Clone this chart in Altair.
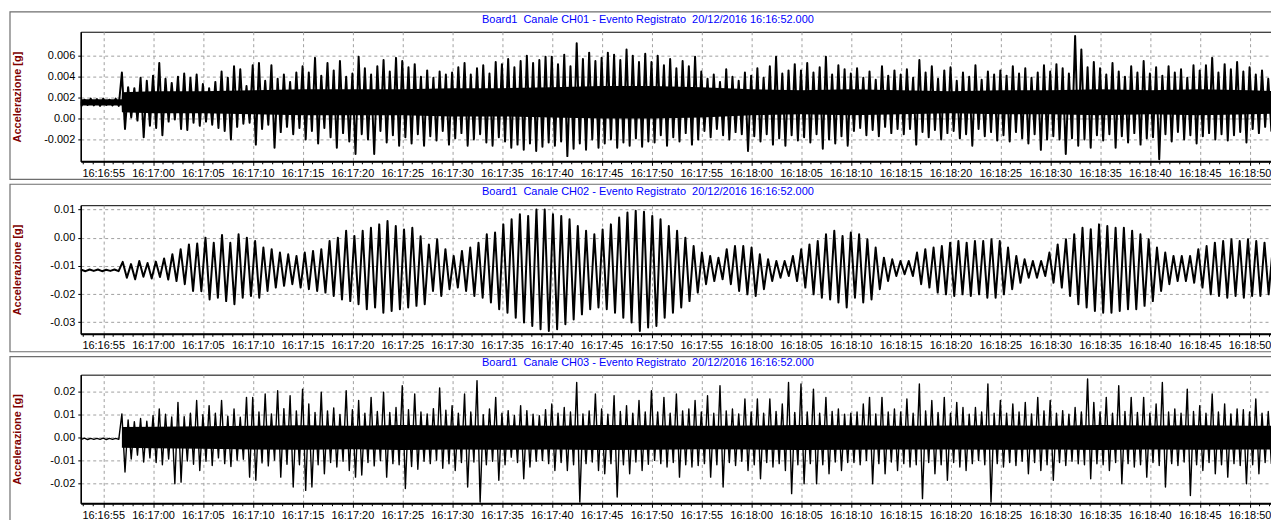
import altair as alt
import pandas as pd

# ---------------- text / axes ----------------
board = "Board1"
event_stamp = "20/12/2016 16:16:52.000"
channels = ["CH01", "CH02", "CH03"]
y_title = "Accelerazione [g]"
x_tick_labels = ["16:16:55", "16:17:00", "16:17:05", "16:17:10", "16:17:15", "16:17:20",
                 "16:17:25", "16:17:30", "16:17:35", "16:17:40", "16:17:45", "16:17:50",
                 "16:17:55", "16:18:00", "16:18:05", "16:18:10", "16:18:15", "16:18:20",
                 "16:18:25", "16:18:30", "16:18:35", "16:18:40", "16:18:45", "16:18:50"]
x_minor_step_s = 1
view_start, view_end = "16:16:52.75", "16:18:52.95"
y_ticks = [[-0.002, 0, 0.002, 0.004, 0.006],
           [-0.03, -0.02, -0.01, 0, 0.01],
           [-0.02, -0.01, 0, 0.01, 0.02]]
y_domains = [[-0.0041, 0.0083], [-0.0341, 0.0115], [-0.0288, 0.0273]]

# ---------------- data (milli-g) ----------------
# CH01 / CH03: one high and one low excursion per 0.625 s window, from 16:16:52.5
win_start, win_step = "16:16:52.5", 0.625
ch01_hi_mg = [1.9, 1.8, 1.9, 1.85, 1.9, 1.8, 1.9,
              4.4, 3.0, 2.9, 3.9, 3.6,
              4.1, 5.3, 3.8, 3.4, 4.0, 4.3, 3.9, 4.2,
              3.3, 2.9, 3.5, 4.5, 3.9, 5.0, 4.7, 3.1,
              5.1, 5.3, 3.6, 5.1, 3.8, 4.2, 3.5, 4.4,
              5.0, 4.4, 5.8, 4.1, 5.3, 4.6, 5.5, 4.0,
              4.3, 5.9, 4.8, 4.2, 5.0, 5.6, 4.5, 5.8,
              5.5, 4.9, 5.2, 4.0, 4.6, 3.9, 4.5, 4.2,
              4.4, 4.9, 5.3, 4.2, 4.8, 5.1, 4.3, 5.4,
              5.2, 5.7, 4.9, 5.5, 6.0, 5.3, 5.6, 5.9,
              5.9, 5.2, 6.1, 5.0, 7.2, 5.7, 6.3, 5.5,
              5.8, 6.3, 6.1, 5.6, 6.6, 6.0, 5.4, 6.2,
              5.4, 6.0, 5.1, 5.7, 4.8, 5.5, 5.0, 5.9,
              4.5, 3.8, 4.2, 3.5, 4.7, 4.0, 3.6, 4.4,
              4.1, 4.8, 3.9, 5.0, 5.9, 4.3, 4.6, 5.2,
              4.6, 5.3, 4.4, 4.9, 5.9, 4.2, 5.1, 4.7,
              4.3, 4.8, 3.9, 4.5, 3.7, 5.0, 4.1, 4.6,
              4.2, 4.7, 3.9, 5.6, 4.4, 5.0, 3.8, 4.6,
              4.9, 3.6, 4.4, 4.0, 5.1, 3.7, 4.5, 4.2,
              4.6, 4.1, 5.0, 4.3, 4.8, 3.9, 4.4, 5.1,
              4.5, 5.2, 4.8, 4.3, 7.9, 6.6, 4.9, 5.4,
              4.8, 4.2, 5.3, 4.5, 4.0, 5.0, 4.4, 5.5,
              4.3, 4.9, 4.1, 5.0, 4.4, 4.7, 3.9, 5.1,
              4.6, 5.1, 5.8, 4.4, 5.2, 4.7, 5.4, 4.5,
              4.9, 4.2, 4.6, 3.8, 4.5, 4.1]
ch01_lo_mg = [1.2, 1.3, 1.25, 1.2, 1.3, 1.25, 1.2,
              -1.0, 0.1, -0.2, -1.8, -0.7,
              -0.9, -1.6, -0.3, -0.1, -1.0, -1.1, -0.4, -0.7,
              -0.3, -0.6, -0.9, -1.2, -2.0, -0.8, -0.5, -0.4,
              -2.5, -1.0, -0.6, -2.8, -1.3, -0.8, -1.5, -0.9,
              -2.0, -1.2, -2.4, -0.9, -1.8, -2.8, -1.4, -2.2,
              -3.4, -1.5, -2.0, -3.4, -1.2, -2.3, -1.6, -2.6,
              -1.8, -2.4, -1.5, -2.6, -1.7, -2.1, -1.2, -2.5,
              -1.9, -1.4, -2.6, -2.0, -1.5, -2.3, -2.6, -1.8,
              -2.2, -2.8, -2.5, -3.0, -2.4, -3.1, -2.7, -2.3,
              -2.6, -2.2, -3.6, -2.9, -2.4, -3.0, -2.0, -2.8,
              -2.4, -2.0, -2.8, -2.3, -2.6, -1.9, -2.7, -2.2,
              -2.3, -1.6, -2.6, -1.8, -2.2, -1.4, -2.5, -2.0,
              -1.2, -1.8, -1.0, -1.6, -2.0, -1.3, -1.5, -3.1,
              -1.7, -2.2, -1.5, -2.5, -1.9, -2.6, -1.6, -2.1,
              -1.8, -2.3, -1.5, -2.9, -2.0, -2.4, -1.7, -2.6,
              -1.2, -0.9, -1.6, -1.1, -1.7, -0.8, -1.4, -1.0,
              -1.5, -1.0, -2.5, -1.3, -1.8, -1.1, -2.0, -1.4,
              -1.2, -1.9, -1.5, -2.6, -1.0, -1.7, -1.3, -2.1,
              -1.6, -2.2, -1.3, -1.9, -2.4, -1.5, -3.0, -2.0,
              -1.7, -2.0, -3.4, -1.9, -2.6, -2.0, -2.8, -1.6,
              -2.1, -1.5, -2.8, -1.7, -2.3, -1.4, -2.5, -1.9,
              -1.8, -3.9, -1.5, -2.2, -1.3, -2.0, -1.6, -2.4,
              -1.7, -1.4, -2.0, -1.5, -2.1, -1.6, -1.3, -2.3,
              -1.0, -1.4, -0.8, -1.2, -0.9, -1.3]
ch03_hi_mg = [-0.5, -0.4, -0.5, -0.5, -0.4, -0.5, -0.5,
              10.2, 7.5, 6.8, 8.2, 7.0,
              9.5, 12.3, 10.0, 8.8, 15.2, 9.0, 10.5, 16.0,
              9.8, 13.8, 10.5, 16.0, 9.2, 12.3, 8.7, 17.4,
              17.4, 11.0, 18.9, 10.2, 20.3, 12.5, 18.1, 11.5,
              21.0, 14.5, 10.8, 19.6, 11.5, 12.8, 9.9, 20.3,
              12.0, 16.0, 10.5, 17.4, 11.2, 19.6, 10.8, 13.0,
              22.5, 12.0, 18.9, 11.0, 10.2, 12.5, 21.5, 11.8,
              13.8, 10.5, 18.9, 11.0, 24.7, 9.8, 12.3, 17.4,
              10.5, 11.6, 9.5, 13.8, 11.6, 10.0, 9.4, 12.0,
              14.5, 10.5, 13.0, 11.0, 23.9, 10.2, 11.5, 18.9,
              12.3, 10.0, 18.1, 11.2, 13.8, 10.5, 16.0, 11.0,
              20.3, 11.0, 17.4, 10.5, 18.9, 11.5, 12.3, 16.0,
              11.0, 18.1, 10.5, 22.5, 11.5, 12.3, 10.2, 16.7,
              11.0, 16.7, 10.5, 16.7, 11.2, 14.5, 23.9, 10.8,
              23.2, 11.0, 21.0, 10.5, 17.4, 11.2, 12.3, 10.0,
              10.5, 11.0, 14.5, 17.4, 10.2, 17.4, 11.0, 12.3,
              11.0, 16.7, 10.5, 23.2, 11.5, 16.0, 10.8, 17.4,
              10.5, 15.2, 13.0, 10.0, 13.0, 11.0, 23.2, 10.5,
              16.0, 10.5, 14.5, 11.0, 15.2, 10.2, 17.4, 11.5,
              16.0, 10.5, 11.6, 10.0, 13.0, 11.0, 25.4, 15.2,
              11.0, 17.4, 10.5, 22.5, 11.2, 17.4, 10.8, 17.4,
              10.5, 14.5, 23.9, 11.0, 12.3, 10.5, 21.0, 11.2,
              13.8, 10.5, 18.9, 11.0, 14.5, 10.2, 12.3, 12.0,
              11.0, 16.7, 10.5, 11.2, 12.3, 10.8]
ch03_lo_mg = [-0.9, -1.0, -0.9, -0.9, -1.0, -0.9, -0.9,
              -15.2, -9.5, -7.8, -10.8, -9.0,
              -11.0, -12.0, -9.5, -20.3, -19.6, -10.4, -11.8, -14.5,
              -10.5, -12.3, -9.0, -11.5, -12.8, -10.0, -9.6, -17.4,
              -18.8, -11.2, -12.5, -10.0, -17.4, -11.8, -21.7, -12.0,
              -23.2, -21.7, -12.0, -15.9, -11.0, -13.0, -10.5, -14.5,
              -17.4, -16.5, -11.0, -12.5, -10.2, -17.4, -11.5, -12.0,
              -22.4, -12.8, -14.0, -10.5, -11.5, -10.0, -13.5, -11.6,
              -14.5, -11.0, -21.7, -10.8, -28.3, -12.0, -10.5, -18.8,
              -12.0, -8.7, -11.0, -18.1, -13.0, -10.5, -10.1, -11.5,
              -14.5, -11.0, -14.5, -12.0, -28.3, -11.5, -10.8, -14.5,
              -15.9, -11.5, -26.1, -12.0, -15.9, -10.8, -14.5, -11.8,
              -10.1, -11.5, -13.0, -11.0, -17.4, -12.0, -13.0, -12.3,
              -11.5, -17.4, -12.0, -21.7, -11.0, -12.3, -10.5, -14.5,
              -12.0, -18.1, -11.0, -13.0, -11.5, -14.5, -24.6, -12.0,
              -20.3, -11.5, -20.3, -12.0, -15.9, -10.8, -14.5, -11.0,
              -11.0, -12.0, -10.1, -20.3, -11.5, -15.9, -10.8, -14.5,
              -11.5, -13.0, -12.0, -26.8, -11.0, -15.9, -12.0, -18.8,
              -11.0, -13.0, -14.5, -11.5, -10.1, -12.0, -28.3, -11.5,
              -13.0, -11.0, -12.3, -10.5, -15.9, -11.0, -14.5, -12.0,
              -18.8, -11.0, -12.3, -10.5, -11.6, -12.0, -18.1, -11.6,
              -12.0, -14.5, -11.0, -20.3, -11.5, -13.0, -12.0, -17.4,
              -11.0, -12.3, -21.7, -11.5, -12.3, -10.8, -25.4, -12.0,
              -14.5, -11.0, -15.9, -12.0, -17.4, -11.5, -12.3, -20.3,
              -12.0, -15.9, -11.0, -11.5, -13.0, -12.0]

# CH02: one peak and one trough per 0.83 s cycle, from 16:16:51.98
cyc_start, cyc_step = "16:16:51.98", 0.83
ch02_peak_mg = [-11.3, -11.4, -11.3, -11.3, -11.4, -11.3,
                -8.6, -9.4, -8.3, -9.0, -8.5, -7.4,
                -5.9, -4.1, -2.4, -2.1, 0.0, -1.8, 0.9, -1.8, 1.2, 0.0,
                -1.2, -3.5, -4.1, -5.3, -5.9, -6.5, -5.3, -4.7, -4.1, -1.2,
                0.0, 2.4, 0.6, 2.4, 3.5, 4.7, 5.9, 4.1, 2.9, 3.5, 0.5,
                -2.4, -0.6, -4.1, -6.5, -4.7, -3.5, -1.8, 1.2, 1.8, 4.7,
                6.5, 8.3, 7.7, 10.0, 10.0, 8.3, 7.7, 6.5, 4.1, 2.4,
                1.2, 2.9, 4.7, 7.1, 8.9, 9.5, 9.2, 7.7, 6.5, 4.1,
                2.4, 0.0, -3.0, -5.3, -6.5, -7.1, -4.1, -3.0, -3.0, -3.5,
                -5.9, -7.7, -8.3, -8.3, -6.5, -4.1, -2.4, -1.2, 1.2, 2.4, 0.6,
                1.8, 1.2, -0.6, -3.5, -7.1, -7.7, -8.3, -8.3, -5.3, -4.1,
                -3.5, -3.0, -1.8, -1.2, -1.8, -1.2, -1.2, -0.6, -1.2, -3.5,
                -6.5, -7.7, -8.3, -8.3, -5.3, -2.4, -0.6, 1.2, 3.5, 3.0,
                4.7, 4.1, 3.5, 3.5, 2.4, 1.2, -0.6, -3.5, -5.3, -6.5,
                -6.5, -6.5, -4.1, -3.0, -1.8, -1.2, -0.6, -1.2, -0.6, -1.2,
                -1.8, -3.5, -2.0]
ch02_trough_mg = [-11.8, -11.9, -11.8, -11.9, -11.8, -11.9,
                  -14.2, -14.8, -13.9, -14.5, -14.0, -14.9,
                  -15.4, -16.5, -18.9, -19.0, -21.9, -21.3, -22.5, -23.6, -21.3, -20.7,
                  -21.3, -18.9, -17.7, -17.1, -16.5, -17.7, -18.3, -18.9, -19.5, -20.7,
                  -21.9, -22.5, -23.6, -25.4, -24.8, -26.6, -26.0, -25.4, -24.8, -24.2, -23.6,
                  -18.9, -20.7, -18.3, -17.7, -18.9, -20.7, -21.3, -23.0, -25.4, -26.6,
                  -28.4, -30.1, -31.3, -32.5, -33.1, -32.5, -30.7, -29.0, -27.2, -25.4,
                  -24.8, -25.4, -26.6, -28.4, -30.1, -33.1, -31.9, -31.3, -28.4, -26.6,
                  -24.8, -22.5, -19.5, -16.5, -15.4, -14.8, -16.5, -18.9, -20.1, -20.7,
                  -18.3, -15.4, -14.2, -13.6, -15.4, -17.7, -20.1, -21.3, -21.9, -23.0, -24.8,
                  -21.3, -23.0, -21.9, -18.3, -15.4, -13.6, -13.0, -13.6, -16.5, -17.7,
                  -19.5, -20.1, -20.7, -20.1, -20.7, -20.1, -21.3, -21.3, -20.1, -18.3,
                  -16.0, -14.2, -14.2, -13.6, -16.0, -17.7, -20.7, -23.6, -24.8, -26.0,
                  -26.6, -26.6, -26.0, -25.4, -25.4, -24.2, -22.5, -18.9, -16.5, -15.4,
                  -15.4, -16.0, -17.7, -20.1, -20.7, -21.3, -20.7, -21.3, -20.7, -20.7,
                  -20.1, -21.3, -20.5]

# dense central band (seconds after 16:16:00, milli-g)
ch01_core_s = [52.5, 56.85, 56.875, 60, 65, 70, 75, 80, 85, 90, 95, 100, 105, 110, 115,
               120, 125, 130, 135, 140, 145, 150, 155, 160, 165, 170, 173.5]
ch01_core_hi_mg = [1.85, 1.85, 2.5, 2.6, 2.6, 2.7, 2.8, 2.8, 2.8, 2.9, 2.9, 3.0, 3.1, 3.1, 3.0,
                   2.8, 2.7, 2.8, 2.7, 2.6, 2.7, 2.7, 2.8, 2.7, 2.8, 2.7, 2.6]
ch01_core_lo_mg = [1.25, 1.25, 0.6, 0.5, 0.5, 0.4, 0.3, 0.3, 0.3, 0.2, 0.2, 0.1, 0.0, 0.0, 0.1,
                   0.3, 0.4, 0.3, 0.4, 0.5, 0.4, 0.4, 0.3, 0.4, 0.3, 0.4, 0.5]
ch03_core_s = [56.875, 60, 65, 70, 75, 80, 85, 90, 95, 100, 105, 110, 115,
               120, 125, 130, 135, 140, 145, 150, 155, 160, 165, 170, 173.5]
ch03_core_hi_mg = [4.5, 4.6, 4.8, 5.0, 5.2, 5.0, 5.3, 5.1, 5.2, 5.0, 5.3, 5.2, 5.0,
                   5.1, 5.3, 5.2, 5.0, 5.1, 5.2, 5.0, 5.3, 5.1, 5.2, 5.0, 5.1]
ch03_core_lo_mg = [-4.6, -4.8, -5.0, -5.3, -5.5, -5.2, -5.6, -5.4, -5.5, -5.3, -5.6, -5.5, -5.2,
                   -5.4, -5.6, -5.5, -5.3, -5.4, -5.5, -5.3, -5.6, -5.4, -5.5, -5.3, -5.4]

assert len(ch01_hi_mg) == len(ch01_lo_mg) == len(ch03_hi_mg) == len(ch03_lo_mg)
assert len(ch02_peak_mg) == len(ch02_trough_mg)
assert len(ch01_core_s) == len(ch01_core_hi_mg) == len(ch01_core_lo_mg)
assert len(ch03_core_s) == len(ch03_core_hi_mg) == len(ch03_core_lo_mg)


def hms(s):
    h, m, sec = s.split(":")
    return int(h) * 3600 + int(m) * 60 + float(sec)


BASE = hms("16:16:00")


def zigzag(start, step, highs, lows):
    t0 = hms(start)
    rows = []
    for k, (a, b) in enumerate(zip(highs, lows)):
        rows.append({"t": t0 + k * step, "g": a / 1000.0})
        rows.append({"t": t0 + k * step + step / 2, "g": b / 1000.0})
    return pd.DataFrame(rows)


def band(secs, highs, lows):
    return pd.DataFrame({"t": [BASE + s for s in secs],
                         "g": [v / 1000.0 for v in highs],
                         "g2": [v / 1000.0 for v in lows]})


waves = [zigzag(win_start, win_step, ch01_hi_mg, ch01_lo_mg),
         zigzag(cyc_start, cyc_step, ch02_peak_mg, ch02_trough_mg),
         zigzag(win_start, win_step, ch03_hi_mg, ch03_lo_mg)]
cores = [band(ch01_core_s, ch01_core_hi_mg, ch01_core_lo_mg),
         None,
         band(ch03_core_s, ch03_core_hi_mg, ch03_core_lo_mg)]
stroke_w = [2.0, 2.0, 1.4]
heights = [130, 129, 129]
frames = [(-20, 148), (-21, 147), (-18, 149)]
title_y = [-12, -13, -12]

FONT = "Liberation Sans"
W = 1202
x_lo, x_hi = hms(view_start), hms(view_end)
x_ticks = [hms(s) for s in x_tick_labels]
minor_df = pd.DataFrame({"t": [s for s in range(int(x_lo) + 1, int(x_hi) + 1, x_minor_step_s)
                               if s not in x_ticks]})
x_scale = alt.Scale(domain=[x_lo, x_hi], nice=False, zero=False)
x_axis = alt.Axis(values=x_ticks, title=None, labelExpr="utcFormat(datum.value * 1000, '%H:%M:%S')",
                  tickSize=4, labelPadding=2, domainWidth=2, labelOverlap=False, labelFlush=False)


def label_expr(dec):
    if dec == 3:
        return ("datum.value == 0 ? '0.00' : (datum.value < 0 ? '-' : '') + "
                "format(abs(datum.value), '.3f')")
    return "(datum.value < 0 ? '-' : '') + format(abs(datum.value), '.2f')"


panels = []
for i, ch in enumerate(channels):
    h = heights[i]
    y_scale = alt.Scale(domain=y_domains[i], nice=False, zero=False)
    y_axis = alt.Axis(values=y_ticks[i], title=y_title, labelExpr=label_expr(3 if i == 0 else 2),
                      tickSize=3, labelPadding=3, domainWidth=1.5,
                      titleX=-63, titleY=h / 2, titleAngle=270, titleAlign="center",
                      titleBaseline="middle")
    X = alt.X("t:Q", scale=x_scale, axis=x_axis)
    Y = alt.Y("g:Q", scale=y_scale, axis=y_axis)

    fy0, fy1 = frames[i]
    frame = alt.Chart(pd.DataFrame({"k": [0]})).mark_rect(
        fillOpacity=0, stroke="#6e6e6e", strokeWidth=1.2, clip=False
    ).encode(x=alt.value(-71), x2=alt.value(1210), y=alt.value(fy0), y2=alt.value(fy1))

    title_text = f"{board}\u00a0 Canale {ch} - Evento Registrato\u00a0 {event_stamp}"
    title = alt.Chart(pd.DataFrame({"label": [title_text]})).mark_text(
        color="#0000ff", font=FONT, fontSize=11, fontWeight="normal",
        align="center", baseline="middle", clip=False
    ).encode(text="label:N", x=alt.value(569), y=alt.value(title_y[i]))

    minor = alt.Chart(minor_df).mark_rule(color="black", strokeWidth=1, clip=False).encode(
        x=X, y=alt.value(h + 1), y2=alt.value(h + 3))

    layers = [frame, title]
    if cores[i] is not None:
        layers.append(alt.Chart(cores[i]).mark_area(color="black", clip=True).encode(
            x=X, y=Y, y2=alt.Y2("g2:Q")))
    layers.append(alt.Chart(waves[i]).mark_line(
        color="black", strokeWidth=stroke_w[i], strokeJoin="round", clip=True
    ).encode(x=X, y=Y))
    layers.append(minor)

    panels.append(alt.layer(*layers).properties(width=W, height=h))

chart = alt.vconcat(*panels, spacing=1).properties(
    padding={"left": 0, "top": 1, "right": -18, "bottom": 0}
).configure_view(
    stroke="black", strokeWidth=1
).configure_axis(
    grid=True, gridColor="#a0a0a0", gridDash=[3, 3], gridWidth=1,
    domainColor="black", tickColor="black", labelColor="black",
    labelFont=FONT, labelFontSize=11,
    titleFont=FONT, titleFontSize=11, titleFontWeight="bold", titleColor="#800000"
)

chart.save("out.html", embed_options={"renderer": "svg", "actions": False})
